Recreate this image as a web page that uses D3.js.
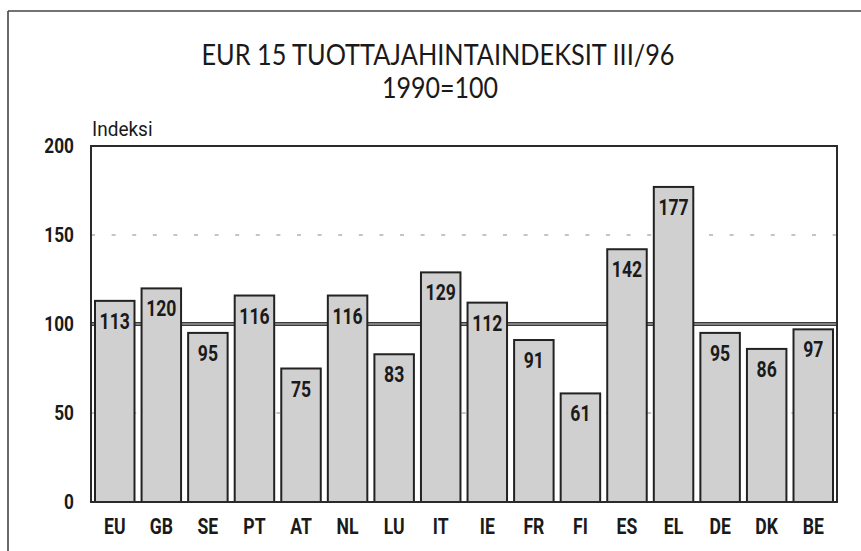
<!DOCTYPE html>
<html lang="fi">
  <head>
    <meta charset="UTF-8" />
    <title>EUR 15 tuottajahintaindeksit</title>
    <style>
      body { margin: 0; background: #fff; }
      #chart { width: 861px; height: 551px; }
      text { font-family: Roboto, "Liberation Sans", sans-serif; fill: #1a1a1a; }
      .title { font-family: Lato, "Open Sans", sans-serif; }
    </style>
  </head>
  <body>
    <div id="chart"></div>
    <script src="https://cdn.jsdelivr.net/npm/d3@7"></script>
    <script>
      // data
      var countries = ["EU", "GB", "SE", "PT", "AT", "NL", "LU", "IT", "IE", "FR", "FI", "ES", "EL", "DE", "DK", "BE"];
      var values = [113, 120, 95, 116, 75, 116, 83, 129, 112, 91, 61, 142, 177, 95, 86, 97];
      var yTicks = [0, 50, 100, 150, 200];
      var gridTicks = [50, 150];
      var baseValue = 100;
      var titleLines = ["EUR 15 TUOTTAJAHINTAINDEKSIT III/96", "1990=100"];
      var yLabel = "Indeksi";

      var width = 861, height = 551;
      var margin = { top: 146, right: 24, bottom: 49, left: 91 };
      var innerW = width - margin.left - margin.right;
      var innerH = height - margin.top - margin.bottom;

      // squeeze text horizontally to mimic a condensed face
      function condense(sel, k) {
        sel.each(function () {
          var w = this.getComputedTextLength();
          d3.select(this)
            .attr("textLength", w * k)
            .attr("lengthAdjust", "spacingAndGlyphs");
        });
      }

      var svg = d3.select("#chart").append("svg")
        .attr("width", width)
        .attr("height", height);

      // outer frame (top + left edges visible)
      svg.append("line").attr("x1", 8).attr("x2", width).attr("y1", 11).attr("y2", 11)
        .attr("stroke", "#444").attr("stroke-width", 1.6);
      svg.append("line").attr("x1", 8).attr("x2", 8).attr("y1", 11).attr("y2", height)
        .attr("stroke", "#444").attr("stroke-width", 1.6);

      // title
      svg.append("text")
        .attr("class", "title")
        .attr("x", 438).attr("y", 65)
        .attr("text-anchor", "middle")
        .attr("font-size", 29)
        .attr("textLength", 473)
        .attr("lengthAdjust", "spacingAndGlyphs")
        .text(titleLines[0]);
      svg.append("text")
        .attr("class", "title")
        .attr("x", 440).attr("y", 98)
        .attr("text-anchor", "middle")
        .attr("font-size", 29)
        .attr("textLength", 116)
        .attr("lengthAdjust", "spacingAndGlyphs")
        .text(titleLines[1]);

      var g = svg.append("g")
        .attr("transform", "translate(" + margin.left + "," + margin.top + ")");

      var x = d3.scaleBand()
        .domain(countries)
        .range([0, innerW])
        .paddingInner(0.152)
        .paddingOuter(0.086);

      var y = d3.scaleLinear()
        .domain([0, 200])
        .range([innerH, 0]);

      // dashed grid lines
      g.selectAll(".grid")
        .data(gridTicks)
        .enter().append("line")
        .attr("class", "grid")
        .attr("x1", 0).attr("x2", innerW)
        .attr("y1", function (d) { return y(d); })
        .attr("y2", function (d) { return y(d); })
        .attr("stroke", "#8a8a8a")
        .attr("stroke-width", 1.2)
        .attr("stroke-dasharray", "4,16.6");

      // reference line at 100
      g.append("line")
        .attr("x1", 0).attr("x2", innerW)
        .attr("y1", y(baseValue)).attr("y2", y(baseValue))
        .attr("stroke", "#3a3a3a").attr("stroke-width", 4);
      g.append("line")
        .attr("x1", 0).attr("x2", innerW)
        .attr("y1", y(baseValue)).attr("y2", y(baseValue))
        .attr("stroke", "#9a9a9a").attr("stroke-width", 1.4);

      // bars
      g.selectAll(".bar")
        .data(values)
        .enter().append("rect")
        .attr("class", "bar")
        .attr("x", function (d, i) { return x(countries[i]); })
        .attr("width", x.bandwidth())
        .attr("y", function (d) { return y(d); })
        .attr("height", function (d) { return innerH - y(d); })
        .attr("fill", "#d0d0d0")
        .attr("stroke", "#222")
        .attr("stroke-width", 2);

      // value labels inside bars
      g.selectAll(".val")
        .data(values)
        .enter().append("text")
        .attr("class", "val")
        .attr("x", function (d, i) { return x(countries[i]) + x.bandwidth() / 2; })
        .attr("y", function (d) { return y(d) + 28; })
        .attr("text-anchor", "middle")
        .attr("font-size", 22)
        .attr("font-weight", "bold")
        .text(function (d) { return d; })
        .call(condense, 0.8);

      // plot frame
      g.append("rect")
        .attr("x", 0).attr("y", 0)
        .attr("width", innerW).attr("height", innerH)
        .attr("fill", "none")
        .attr("stroke", "#2a2a2a")
        .attr("stroke-width", 2);

      // y axis
      var yAxis = g.append("g")
        .call(d3.axisLeft(y).tickValues(yTicks).tickSize(0).tickPadding(17));
      yAxis.select(".domain").remove();
      yAxis.selectAll("text")
        .attr("font-size", 21)
        .attr("font-weight", "bold")
        .attr("fill", "#1a1a1a")
        .style("font-family", "Roboto, 'Liberation Sans', sans-serif")
        .call(condense, 0.82);

      // x axis
      var xAxis = g.append("g")
        .attr("transform", "translate(0," + innerH + ")")
        .call(d3.axisBottom(x).tickSize(0).tickPadding(16));
      xAxis.select(".domain").remove();
      xAxis.selectAll("text")
        .attr("font-size", 22)
        .attr("font-weight", "bold")
        .attr("fill", "#1a1a1a")
        .style("font-family", "Roboto, 'Liberation Sans', sans-serif")
        .call(condense, 0.8);

      // y label
      g.append("text")
        .attr("x", 1).attr("y", -10)
        .attr("font-size", 20)
        .text(yLabel)
        .call(condense, 0.95);
    </script>
  </body>
</html>
